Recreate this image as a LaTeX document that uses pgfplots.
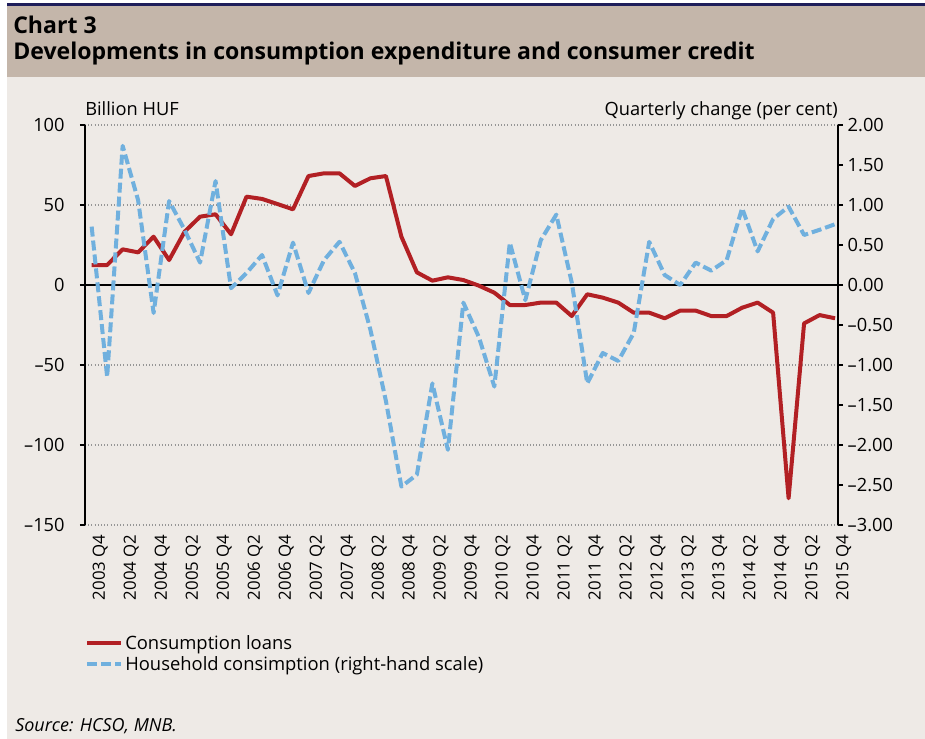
\documentclass[border=0pt]{standalone}
\usepackage{fontspec}
\setmainfont{Open Sans}
\usepackage{pgfplots}
\usepackage{pgfplotstable}
\pgfplotsset{compat=1.18}
\definecolor{bg}{RGB}{238,234,230}
\definecolor{band}{RGB}{196,182,170}
\definecolor{navy}{RGB}{30,30,90}
\definecolor{cred}{RGB}{178,32,36}
\definecolor{cblue}{RGB}{112,176,222}
\definecolor{gridgray}{RGB}{150,150,150}
\pgfplotstableread{
x y
0 12.5
1 12.5
2 22.3
3 20.4
4 30.2
5 15.6
6 33.3
7 42.7
8 44.2
9 31.7
10 55.2
11 53.8
12 50.6
13 47.3
14 68.1
15 69.8
16 69.8
17 61.9
18 66.7
19 68.1
20 30.2
21 7.9
22 2.7
23 4.8
24 3.1
25 -0.4
26 -4.8
27 -12.5
28 -12.5
29 -11.0
30 -11.0
31 -19.4
32 -5.8
33 -7.9
34 -11.0
35 -17.3
36 -17.3
37 -20.8
38 -16.0
39 -16.0
40 -19.4
41 -19.4
42 -14.2
43 -11.0
44 -17.3
45 -133.3
46 -24.0
47 -18.8
48 -20.8
}\loans
\pgfplotstableread{
x y
0 0.73
1 -1.15
2 1.74
3 1.06
4 -0.35
5 1.05
6 0.69
7 0.28
8 1.30
9 -0.04
10 0.15
11 0.375
12 -0.13
13 0.53
14 -0.10
15 0.31
16 0.54
17 0.15
18 -0.56
19 -1.45
20 -2.52
21 -2.37
22 -1.23
23 -2.06
24 -0.22
25 -0.65
26 -1.27
27 0.53
28 -0.19
29 0.56
30 0.88
31 0.03
32 -1.23
33 -0.85
34 -0.95
35 -0.60
36 0.54
37 0.125
38 0.0
39 0.28
40 0.18
41 0.31
42 0.96
43 0.42
44 0.825
45 0.98
46 0.625
47 0.69
48 0.76
}\cons
\begin{document}
\begin{tikzpicture}
\begin{scope}[x=0.75pt,y=-0.75pt]
\path[use as bounding box] (0,0) rectangle (925,739);
\fill[white] (0,0) rectangle (925,739);
\fill[bg] (7,3) rectangle (925,739);
\fill[band] (7,6) rectangle (925,77);
\fill[navy] (7,3) rectangle (925,6);
\node[anchor=base west, font=\bfseries\fontsize{17.3}{20}\selectfont, inner sep=0] at (13,33) {Chart 3};
\node[anchor=base west, font=\bfseries\fontsize{17.3}{20}\selectfont, inner sep=0] at (13,59) {Developments in consumption expenditure and consumer credit};
\node[anchor=base west, font=\fontsize{13.7}{16}\selectfont, inner sep=0] at (85,115) {Billion HUF};
\node[anchor=base east, font=\fontsize{13.7}{16}\selectfont, inner sep=0] at (838,115) {Quarterly change (per cent)};
\node[anchor=base west, font=\itshape\fontsize{13.5}{16}\selectfont, inner sep=0] at (15,731) {Source: HCSO, MNB.};
\end{scope}
\begin{axis}[
  at={(63.75pt,-393.75pt)}, anchor=south west,
  scale only axis, width=564.75pt, height=300pt,
  xmin=-0.43, xmax=48.19, ymin=-150, ymax=100,
  ytick={-150,-100,...,100},
  yticklabels={{\textendash}150,{\textendash}100,{\textendash}50,0,50,100},
  xtick={0,2,...,48},
  xticklabels={2003 Q4,2004 Q2,2004 Q4,2005 Q2,2005 Q4,2006 Q2,2006 Q4,2007 Q2,2007 Q4,2008 Q2,2008 Q4,2009 Q2,2009 Q4,2010 Q2,2010 Q4,2011 Q2,2011 Q4,2012 Q2,2012 Q4,2013 Q2,2013 Q4,2014 Q2,2014 Q4,2015 Q2,2015 Q4},
  xticklabel style={rotate=90, anchor=east, font=\fontsize{12.6}{14}\selectfont, yshift=-6.5pt},
  x tick style={draw=none},
  ytick pos=left, tick align=outside, major tick length=3.75pt,
  y tick style={black, line width=1pt},
  separate axis lines,
  x axis line style={draw=none},
  y axis line style={black, line width=1.2pt},
  ymajorgrids, major grid style={gridgray, dotted, line width=0.8pt},
  yticklabel style={font=\fontsize{13.7}{16}\selectfont, xshift=-8pt},
]
\draw[black, line width=1.5pt] (axis cs:-0.43,0) -- (axis cs:48.19,0);
\addplot[cred, line width=3pt, line join=round] table {\loans};
\end{axis}
\begin{axis}[
  at={(63.75pt,-393.75pt)}, anchor=south west,
  scale only axis, width=564.75pt, height=300pt,
  xmin=-0.43, xmax=48.19, ymin=-3, ymax=2,
  axis x line=none, axis y line*=right,
  ytick={-3,-2.5,...,2},
  yticklabels={{\textendash}3.00,{\textendash}2.50,{\textendash}2.00,{\textendash}1.50,{\textendash}1.00,{\textendash}0.50,0.00,0.50,1.00,1.50,2.00},
  tick align=outside, major tick length=3.75pt,
  y tick style={black, line width=1pt},
  y axis line style={black, line width=1.2pt, -},
  yticklabel style={font=\fontsize{13.7}{16}\selectfont},
  legend style={at={(0,-0.268)}, anchor=north west, draw=none, fill=none, inner sep=0pt,
    font=\fontsize{13.8}{16}\selectfont, cells={anchor=west}, row sep=0pt},
  legend image code/.code={\draw[#1] (0pt,0pt) -- (25pt,0pt);},
]
\addlegendimage{cred, line width=3pt}
\addlegendentry{Consumption loans}
\addplot[cblue, line width=3pt, dash pattern=on 7.5pt off 3pt, line join=round] table {\cons};
\addlegendentry{Household consimption (right-hand scale)}
\end{axis}
\end{tikzpicture}
\end{document}
